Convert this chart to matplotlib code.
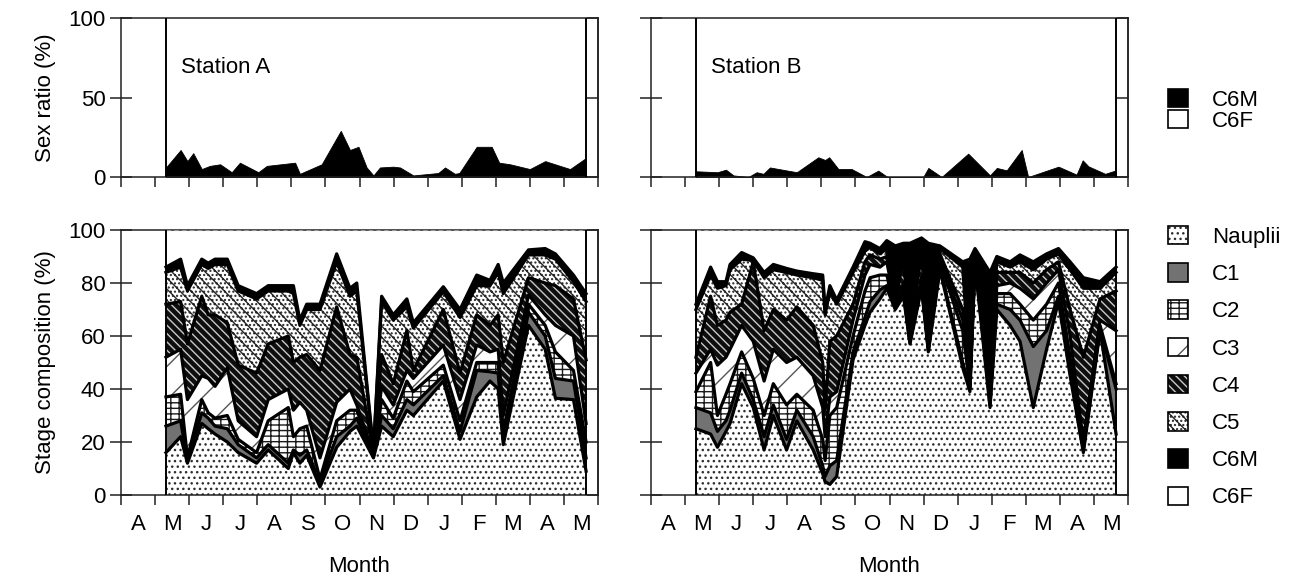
import numpy as np
import matplotlib
matplotlib.use("Agg")
import matplotlib.pyplot as plt
from matplotlib.patches import Patch

plt.rcParams['font.family'] = ['Liberation Sans', 'DejaVu Sans']
plt.rcParams['hatch.linewidth'] = 1.0

# ---------------- data ----------------
month_labels = ['A', 'M', 'J', 'J', 'A', 'S', 'O', 'N', 'D', 'J', 'F', 'M', 'A', 'M']
stages = ['Nauplii', 'C1', 'C2', 'C3', 'C4', 'C5', 'C6M', 'C6F']

# sampling dates in months since 1 April
# Station A : sex ratio (% males among adults)
sex_dates_a = [1.32, 1.75, 1.95, 2.12, 2.37, 2.61, 2.91, 3.25, 3.49, 4.03, 4.28, 5.11,
               5.25, 5.89, 6.45, 6.72, 6.97, 7.21, 7.41, 7.60, 7.99, 8.19, 8.58, 9.31,
               9.51, 9.80, 9.93, 10.44, 10.88, 11.10, 11.42, 12.00, 12.45, 12.74, 13.18, 13.65]
male_a = [6, 17, 10, 15, 5, 7, 8, 3, 9, 3, 7, 9, 2, 8, 29, 17, 19, 6, 1, 6, 6.5, 6, 1, 2.5,
          6, 2, 2.5, 19, 19, 9, 8, 5, 10, 8, 5, 12]

# Station B : sex ratio
sex_dates_b = [1.32, 1.95, 2.20, 2.42, 2.86, 3.10, 3.30, 3.49, 4.28, 4.91, 5.11, 5.23,
               5.50, 5.89, 6.33, 6.67, 6.94, 7.99, 8.14, 8.53, 9.31, 9.95, 10.15, 10.44,
               10.88, 11.07, 11.96, 12.49, 12.67, 12.84, 13.33, 13.65]
male_b = [3.6, 3, 4.6, 1, 0, 3, 2, 6, 3, 12.4, 10.7, 12.4, 5, 5, 0, 4, 0, 0, 5.7, 0, 14.7,
          1, 5.7, 4.2, 17, 0, 6.5, 1.5, 10.5, 6.7, 2, 4.2]

# Station A : stage composition, cumulative upper edge of each stage (%)
dates_a = [1.32, 1.75, 1.95, 2.37, 2.56, 2.76, 3.12, 3.44, 3.98, 4.32, 4.91, 5.06, 5.25,
           5.45, 5.84, 6.33, 6.72, 6.92, 7.41, 7.65, 7.99, 8.39, 8.58, 9.46, 9.95, 10.44,
           10.83, 11.07, 11.22, 11.96, 12.45, 12.75, 13.28, 13.65]
top_nauplii_a = [16, 22, 12, 27, 25, 23, 20, 16, 12, 17, 10, 16, 12, 15, 3, 18, 24, 26, 14,
                 26, 22, 32, 30, 43, 21, 37, 43, 40, 19, 64, 55, 36.5, 36, 9]
top_c1_a = [26, 28, 13, 31, 29, 26, 25, 19, 14, 19, 12, 17, 15, 17, 5, 22, 26, 29, 14.5,
            30, 25, 36, 34, 45, 24, 47, 46.5, 46, 21, 69, 60, 44, 43, 14]
top_c2_a = [37, 38, 14, 36, 31, 29, 30, 21, 16, 28, 33, 22, 25, 26, 6, 28, 32, 32, 15,
            36, 29, 43, 39, 49, 28, 50, 50, 50, 24, 72, 64, 54, 47, 20]
top_c3_a = [52, 55, 36, 45, 44, 41, 48, 28, 22, 36, 40, 32, 35, 32, 14, 35, 40, 34, 15.5,
            41, 34, 47, 44, 56.6, 36, 56.6, 54, 55, 30, 75.5, 68, 64, 60, 27]
top_c4_a = [72, 73, 57, 75, 68, 68, 65, 49, 46, 57, 60, 50, 52, 53, 47, 71, 53, 52, 16,
            53, 42, 62, 47, 70, 46, 68, 64, 68, 50, 82, 80, 79, 74, 51]
top_c5_a = [84, 86, 77, 87, 85.5, 87, 87, 77, 74, 77, 77, 76, 64, 70, 70, 88, 75, 77, 16.5,
            73, 66, 71, 63, 76.7, 67, 79, 79, 84, 76, 90.6, 90.6, 89, 80.5, 73]
top_c6m_a = [86, 89, 79, 89, 87.5, 89, 89, 79, 76, 79, 79, 79, 66, 72, 72, 91, 78, 80, 17,
             75, 68, 74, 65, 78.6, 70, 83, 81, 87, 80, 92.5, 93, 91, 83, 76]

# Station B : stage composition, cumulative upper edge of each stage (%)
dates_b = [1.32, 1.75, 1.95, 2.20, 2.32, 2.66, 3.00, 3.32, 3.59, 3.98, 4.28, 4.76, 5.04,
           5.11, 5.25, 5.45, 5.93, 6.28, 6.43, 6.72, 6.92, 7.17, 7.41, 7.60, 7.94, 8.14,
           8.48, 9.15, 9.36, 9.51, 9.95, 10.15, 10.54, 10.83, 11.22, 11.61, 11.96, 12.30,
           12.69, 13.18, 13.65]
top_nauplii_b = [25, 23, 18, 24, 27, 42, 33, 17, 30, 17, 28, 17, 8, 5, 4, 7, 51, 64, 69,
                 74, 78, 70, 75, 57, 78, 54, 85, 48, 39, 87, 33, 70, 64, 58, 33, 55, 73,
                 45, 16, 62, 23]
top_c1_b = [33, 31, 24, 28, 32, 46, 36, 22, 34, 21, 32, 22, 11, 7, 11, 13, 54, 67, 73,
            77.4, 79, 70.5, 76, 57.5, 79, 54.5, 86, 50, 40, 88, 34, 72, 70, 66, 56, 62,
            75, 47, 17, 63, 40]
top_c2_b = [39, 50, 30, 38, 42, 54, 44, 30, 42, 34, 38, 32, 21, 13, 30, 33, 60, 77, 82,
            83, 83, 71, 78, 58, 80, 55, 88, 62, 41, 89, 37, 76, 76, 72, 66, 72, 80, 52,
            18, 64, 42]
top_c3_b = [46, 55, 49, 52, 55, 64, 58, 43, 55, 50, 52, 45, 33, 22, 37, 39, 66, 83, 87,
            86, 88, 71.5, 80, 58.5, 82, 55.5, 89, 66, 42, 90, 40, 79, 80, 78, 74, 80, 85,
            60, 20, 66, 62]
top_c4_b = [52, 75, 64, 66, 69, 72, 88, 62, 70, 66, 71, 64, 50, 32, 58, 60, 72, 88, 90.6,
            89, 90, 72, 90, 59, 92, 56, 91, 70, 43, 91, 44, 84, 84, 84, 80, 85, 88, 70,
            52, 74, 77]
top_c5_b = [70, 83, 78, 79, 85, 89, 88.5, 82, 85, 84, 83, 82, 81, 68, 77, 72, 84, 92, 93.5,
            91, 93, 72.5, 93, 59.5, 95, 56.5, 93, 86, 44, 92, 50, 88, 86, 88, 85, 89, 91,
            85, 78, 78, 84]
top_c6m_b = [72, 86, 80.5, 80.5, 87, 91.5, 89.5, 84, 87, 85.5, 84.5, 83.5, 83, 70, 79, 73.6,
             86, 95.6, 95, 93, 96, 94, 95, 95, 97, 95, 94, 88, 89, 93, 84, 90, 88, 90.6,
             88, 91, 93, 88, 82, 80.5, 86]

# ---------------- styles ----------------
styles = {
    'Nauplii': dict(face='white', hatch='...', hcolor='#2e2e2e'),
    'C1': dict(face='#727272', hatch=None, hcolor='#727272'),
    'C2': dict(face='white', hatch='---||', hcolor='#1a1a1a'),
    'C3': dict(face='white', hatch='/', hcolor='#555555'),
    'C4': dict(face='#0e0e0e', hatch='\\\\\\\\', hcolor='#c8c8c8'),
    'C5': dict(face='white', hatch='\\\\\\....', hcolor='#262626'),
    'C6M': dict(face='black', hatch=None, hcolor='black'),
    'C6F': dict(face='white', hatch=None, hcolor='white'),
}

FS = 16
TFS = 16


def setup_axes(ax, yticks, show_ylabels, show_xlabels):
    ax.set_xlim(0, 14)
    ax.set_ylim(0, 100)
    ax.set_xticks(np.arange(15))
    ax.set_xticklabels([])
    ax.set_xticks(np.arange(14) + 0.5, minor=True)
    ax.set_xticklabels(month_labels if show_xlabels else [''] * 14, minor=True)
    ax.tick_params(axis='x', which='major', direction='out', length=7, width=1.1,
                   color='#222222')
    ax.tick_params(axis='x', which='minor', length=0, labelsize=TFS, pad=14)
    ax.set_yticks(yticks)
    ax.tick_params(axis='y', direction='inout', length=16, width=1.1, color='#222222',
                   labelsize=TFS, pad=3, labelleft=show_ylabels)
    sec = ax.secondary_yaxis('right')
    sec.set_yticks(yticks)
    sec.set_yticklabels([])
    sec.tick_params(axis='y', direction='in', length=8, width=1.1, color='#222222')
    sec.spines['right'].set_linewidth(1.1)
    for s in ax.spines.values():
        s.set_linewidth(1.1)
        s.set_color('#222222')
    sec.spines['right'].set_color('#222222')


def draw_sex(ax, dates, male):
    ax.fill_between(dates, 0, male, facecolor='black', edgecolor='black', linewidth=0.6,
                    zorder=2)
    ax.vlines([dates[0], dates[-1]], 0, 100, color='black', lw=1.4, zorder=3)


def draw_stages(ax, dates, edges):
    x = np.asarray(dates, dtype=float)
    lower = np.zeros_like(x)
    uppers = [np.asarray(e, dtype=float) for e in edges] + [np.full_like(x, 100.0)]
    for name, upper in zip(stages, uppers):
        st = styles[name]
        ax.fill_between(x, lower, upper, facecolor=st['face'], edgecolor=st['hcolor'],
                        hatch=st['hatch'], linewidth=0, zorder=2)
        lower = upper
    for upper in uppers[:-1]:
        ax.plot(x, upper, color='black', lw=2.3, solid_joinstyle='round', zorder=3)
    ax.plot(x, uppers[-1], color='#999999', lw=0.8, ls=(0, (4, 3)), zorder=3)
    ax.vlines([x[0], x[-1]], 0, 100, color='black', lw=1.4, zorder=4)


fig = plt.figure(figsize=(12.94, 5.8), dpi=100)
W, H = 1294, 580


def add_ax(x0, x1, ytop, ybot):
    return fig.add_axes([x0 / W, (H - ybot) / H, (x1 - x0) / W, (ybot - ytop) / H])


ax_sa = add_ax(121, 598, 18, 177)
ax_sb = add_ax(651, 1128, 18, 177)
ax_ca = add_ax(121, 598, 230, 495)
ax_cb = add_ax(651, 1128, 230, 495)

draw_sex(ax_sa, sex_dates_a, male_a)
draw_sex(ax_sb, sex_dates_b, male_b)
draw_stages(ax_ca, dates_a, [top_nauplii_a, top_c1_a, top_c2_a, top_c3_a, top_c4_a,
                             top_c5_a, top_c6m_a])
draw_stages(ax_cb, dates_b, [top_nauplii_b, top_c1_b, top_c2_b, top_c3_b, top_c4_b,
                             top_c5_b, top_c6m_b])

setup_axes(ax_sa, [0, 50, 100], True, False)
setup_axes(ax_sb, [0, 50, 100], False, False)
setup_axes(ax_ca, [0, 20, 40, 60, 80, 100], True, True)
setup_axes(ax_cb, [0, 20, 40, 60, 80, 100], False, True)

ax_sa.text(1.76, 69, 'Station A', fontsize=FS, va='center', ha='left')
ax_sb.text(1.76, 69, 'Station B', fontsize=FS, va='center', ha='left')

ax_sa.set_ylabel('Sex ratio (%)', fontsize=FS, labelpad=9)
ax_ca.set_ylabel('Stage composition (%)', fontsize=FS, labelpad=9)
ax_ca.set_xlabel('Month', fontsize=FS, labelpad=15)
ax_cb.set_xlabel('Month', fontsize=FS, labelpad=15)


def handle(name):
    st = styles[name]
    fill = Patch(facecolor=st['face'], edgecolor=st['hcolor'], hatch=st['hatch'], linewidth=0)
    edge = Patch(facecolor='none', edgecolor='black', linewidth=1.2)
    return (fill, edge)


fig.legend([handle('C6M'), handle('C6F')], ['C6M', 'C6F'], loc='upper left',
           bbox_to_anchor=(1168 / W, (H - 89) / H), frameon=False, fontsize=FS,
           handlelength=0.9, handleheight=0.9, handletextpad=1.08, labelspacing=-0.05,
           borderpad=0, borderaxespad=0)
fig.legend([handle(s) for s in stages], stages, loc='upper left',
           bbox_to_anchor=(1168 / W, (H - 226) / H), frameon=False, fontsize=FS,
           handlelength=0.9, handleheight=0.9, handletextpad=1.08, labelspacing=0.69,
           borderpad=0, borderaxespad=0)

fig.savefig('out.png', dpi=100)
